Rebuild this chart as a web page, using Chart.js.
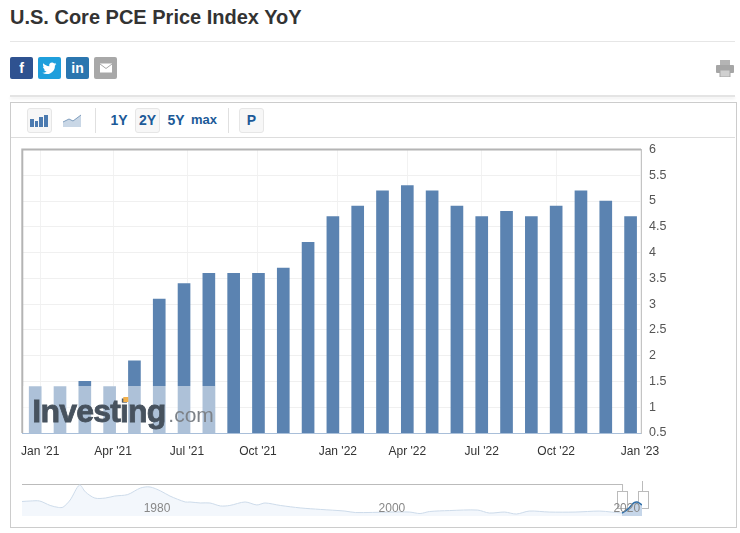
<!DOCTYPE html>
<html>
<head>
<meta charset="utf-8">
<title>U.S. Core PCE Price Index YoY</title>
<script src="https://cdn.jsdelivr.net/npm/chart.js@4"></script>
<style>
  html, body { margin: 0; padding: 0; background: #fff; }
  body { width: 740px; height: 533px; position: relative; overflow: hidden; font-family: "Liberation Sans", Arial, sans-serif; }
  .abs { position: absolute; }
  h1 { position: absolute; left: 10px; top: 6px; margin: 0; font-size: 20px; line-height: 22px; font-weight: bold; color: #333; }
  .rule { position: absolute; background: #e6e6e6; height: 1px; }
  .soc { position: absolute; top: 57px; width: 23px; height: 22px; border-radius: 2px; color: #fff; font-weight: bold; font-size: 14px; line-height: 22px; text-align: center; }
  .box { position: absolute; left: 10px; top: 102px; width: 725px; height: 424px; border: 1px solid #ccc; }
  .btn { position: absolute; top: 108px; height: 23px; border: 1px solid #e6e6e6; border-radius: 3px; background: #f7f7f7; }
  .tool { position: absolute; top: 111px; font-size: 14px; line-height: 18px; font-weight: bold; color: #1c5a98; text-align: center; }
  .sep { position: absolute; top: 108px; width: 1px; height: 25px; background: #e0e0e0; }
  .handle { position: absolute; top: 491px; width: 9px; height: 16px; border: 1px solid #bbb; background: #fff; }
  canvas { position: absolute; }
</style>
</head>
<body>
<h1>U.S. Core PCE Price Index YoY</h1>
<div class="rule" style="left:10px;top:41px;width:725px"></div>

<div class="soc" style="left:10px;background:#2f5290">f</div>
<div class="soc" style="left:38px;background:#1f9fdc">
  <svg width="15" height="22" viewBox="0 0 24 24" style="display:block;margin:0 auto"><path fill="#fff" d="M23 5.5c-.8.4-1.700.6-2.600.7.900-.6 1.600-1.400 2-2.500-.9.500-1.900.9-2.900 1.100a4.600 4.600 0 0 0-7.900 4.200C7.800 8.800 4.400 7 2.200 4.200c-1.200 2.100-.6 4.800 1.400 6.100-.7 0-1.400-.2-2.100-.6 0 2.200 1.600 4.100 3.700 4.600-.7.200-1.400.2-2.100.1.600 1.900 2.300 3.200 4.300 3.200A9.300 9.300 0 0 1 .6 19.500 13 13 0 0 0 20.700 8c.9-.6 1.700-1.500 2.300-2.500z"/></svg>
</div>
<div class="soc" style="left:66px;background:#2b76af">in</div>
<div class="soc" style="left:94px;background:#a8a8a8">
  <svg width="14" height="22" viewBox="0 0 14 22" style="display:block;margin:0 auto"><rect x="1" y="6.500" width="12" height="9" fill="#fff"/><path d="M1 7l6 4.500L13 7" fill="none" stroke="#a8a8a8"/></svg>
</div>
<svg class="abs" style="left:716px;top:60px" width="18" height="17" viewBox="0 0 18 17">
  <rect x="4" y="0" width="10" height="5" fill="#b4b4b4"/><rect x="0" y="5" width="18" height="8" rx="1" fill="#a6a6a6"/><rect x="4" y="10" width="10" height="7" fill="#d0d0d0" stroke="#a6a6a6"/>
</svg>

<div class="abs" style="left:10px;top:95px;width:725px;height:2px;background:#e4e4e4;box-shadow:0 2px 3px #eee"></div>
<div class="box"></div>
<div class="rule" style="left:11px;top:137px;width:724px;background:#ddd"></div>

<div class="btn" style="left:27px;width:23px"></div>
<svg class="abs" style="left:30px;top:113px" width="18" height="14"><g fill="#4c7bb0"><rect x="0" y="6" width="4" height="8"/><rect x="5" y="8" width="3" height="6"/><rect x="9" y="4" width="4" height="10"/><rect x="14" y="2" width="4" height="12"/></g></svg>
<svg class="abs" style="left:63px;top:114px" width="18" height="14"><path d="M0 8l6-3 4 2 8-6v12H0z" fill="#c9d7e6"/><path d="M0 8l6-3 4 2 8-6" fill="none" stroke="#7f9dbd"/></svg>
<div class="sep" style="left:95px"></div>
<div class="tool" style="left:108px;width:22px">1Y</div>
<div class="btn" style="left:135px;width:23px"></div>
<div class="tool" style="left:136px;width:23px">2Y</div>
<div class="tool" style="left:165px;width:22px">5Y</div>
<div class="tool" style="left:190px;width:28px;font-size:13px">max</div>
<div class="sep" style="left:228px"></div>
<div class="btn" style="left:239px;width:23px"></div>
<div class="tool" style="left:240px;width:23px">P</div>

<canvas id="main-chart" width="692" height="331" style="left:10px;top:134px"></canvas>

<div class="handle" style="left:617px"></div>
<div class="handle" style="left:638px"></div>
<canvas id="nav-chart" width="660" height="50" style="left:12px;top:475px"></canvas>

<script>
const months = ["Jan '21","Feb '21","Mar '21","Apr '21","May '21","Jun '21","Jul '21","Aug '21","Sep '21","Oct '21","Nov '21","Dec '21",
  "Jan '22","Feb '22","Mar '22","Apr '22","May '22","Jun '22","Jul '22","Aug '22","Sep '22","Oct '22","Nov '22","Dec '22","Jan '23"];
const coreValues = [1.4,1.4,1.5,1.4,1.9,3.1,3.4,3.6,3.6,3.6,3.7,4.2,4.7,4.9,5.2,5.3,5.2,4.9,4.7,4.8,4.7,4.9,5.2,5.0,4.7];
const yTicks = [0.5,1,1.5,2,2.5,3,3.5,4,4.5,5,5.5,6];
const xTickMonths = [0,3,6,9,12,15,18,21,24];

const navYears = [1968.5,1969.2,1970,1970.9,1971.6,1972,1972.6,1973.4,1973.9,1974.7,1975.6,1976.4,1977.5,1978.6,1979.4,1980.3,1981.1,1982.4,1982.8,1983.7,1984.5,1985.4,1986.2,1987.5,1988.5,1989.2,1990.5,1992.2,1993.9,1996,1996.9,1999.8,2001.5,2002.4,2003.2,2004.9,2007.3,2008.3,2009.6,2010.6,2011.7,2013.4,2015.6,2017.7,2018.7,2019.6];
const navValues = [5,5.15,5.15,3.8,3.2,3.3,5.45,10,7.9,6.05,6.05,6.65,7.1,9.1,9.4,8.2,6.65,4.85,4.85,4.55,4.55,3.65,3.8,4.85,3.95,4.55,3.8,3.05,2.6,2.1,1.65,1.8,1.8,1.35,1.95,2.25,2.4,1.5,1.8,1.2,2.1,1.8,1.8,2.1,1.8,1.5];
const navSelYears = [2019.6,2020.1,2020.6,2020.9,2021.3];
const navSelValues = [1.5,2.7,4.55,4.85,3.95];
const navTicks = [1980,2000,2020];

// the source axis is date based, so its ticks sit a little off the bars
const tickShift = [0.2,0.14,0.12,-0.02,0.2,0,0,0,0.38];

// forces the plot rectangle to the same pixels as the reference
const PLOT = { right: 631, bottom: 299 };

const frameAndMark = {
  id: 'frameAndMark',
  beforeDatasetsDraw(chart) {
    const { ctx, chartArea: a } = chart;
    ctx.save();
    ctx.strokeStyle = '#b4b4b4';
    ctx.lineWidth = 2;
    ctx.beginPath();
    ctx.moveTo(a.left, a.bottom);
    ctx.lineTo(a.left, a.top);
    ctx.lineTo(a.right, a.top);
    ctx.stroke();
    ctx.restore();
  },
  afterDatasetsDraw(chart) {
    const { ctx, chartArea: a } = chart;
    ctx.save();
    ctx.fillStyle = 'rgba(255,255,255,0.5)';
    ctx.fillRect(a.left + 1, a.bottom - 47, 192, 47);
    ctx.textBaseline = 'alphabetic';
    ctx.font = 'bold 32px "Liberation Sans"';
    ctx.letterSpacing = '-0.8px';
    ctx.fillStyle = '#47525e';
    ctx.strokeStyle = '#47525e';
    ctx.lineWidth = 0.8;
    ctx.fillText('Investing', a.left + 10, a.bottom - 11);
    ctx.strokeText('Investing', a.left + 10, a.bottom - 11);
    ctx.letterSpacing = '0px';
    ctx.font = '21px "Liberation Sans"';
    ctx.fillStyle = '#7d8288';
    ctx.fillText('.com', a.left + 146, a.bottom - 11);
    ctx.fillStyle = '#f2b04a';
    ctx.fillRect(a.left + 101, a.bottom - 36, 5, 5);
    ctx.restore();
  },
};

new Chart(document.getElementById('main-chart'), {
  type: 'bar',
  data: {
    datasets: [{
      data: months.map((m, i) => ({ x: i, y: coreValues[i] })),
      backgroundColor: '#5b83b1',
      barThickness: 12,
    }],
  },
  options: {
    responsive: false,
    animation: false,
    plugins: { legend: { display: false }, tooltip: { enabled: false } },
    scales: {
      x: {
        type: 'linear',
        offset: false,
        min: -0.52,
        max: 24.42,
        afterBuildTicks: s => { s.ticks = xTickMonths.map((m, i) => ({ value: m + tickShift[i] })); },
        afterFit: s => { s.height = 331 - PLOT.bottom; },
        grid: { color: '#f2f2f2', drawTicks: false, offset: false },
        border: { color: '#a9bfd9' },
        ticks: {
          autoSkip: false,
          maxRotation: 0,
          padding: 11,
          color: '#333',
          font: { family: 'Liberation Sans', size: 12 },
          callback: (v, i) => months[xTickMonths[i]],
        },
      },
      y: {
        position: 'right',
        min: 0.5,
        max: 6,
        afterBuildTicks: s => { s.ticks = yTicks.map(v => ({ value: v })); },
        afterFit: s => { s.width = 692 - PLOT.right; },
        grid: { color: '#f0f0f0', drawTicks: false },
        border: { color: '#c4c4c4' },
        ticks: { padding: 8, color: '#555', font: { family: 'Liberation Sans', size: 12.5 }, callback: v => String(v) },
      },
    },
  },
  plugins: [frameAndMark],
});

new Chart(document.getElementById('nav-chart'), {
  type: 'line',
  data: {
    datasets: [
      {
        data: navYears.map((y, i) => ({ x: y, y: navValues[i] })),
        borderColor: '#cddbea',
        borderWidth: 1,
        backgroundColor: '#f3f7fc',
        fill: 'start',
        pointRadius: 0,
        tension: 0.3,
      },
      {
        data: navSelYears.map((y, i) => ({ x: y, y: navSelValues[i] })),
        borderColor: '#2f6ea8',
        borderWidth: 1.5,
        backgroundColor: '#c6d6e9',
        fill: 'start',
        pointRadius: 0,
        tension: 0.3,
      },
    ],
  },
  options: {
    responsive: false,
    animation: false,
    layout: { padding: { left: 10, top: 9, right: 30, bottom: 0 } },
    plugins: { legend: { display: false }, tooltip: { enabled: false } },
    scales: {
      x: {
        type: 'linear',
        min: 1968.5,
        max: 2021.3,
        afterBuildTicks: s => { s.ticks = navTicks.map(v => ({ value: v })); },
        afterFit: s => { s.height = 9; },
        grid: { display: false },
        border: { display: false },
        ticks: {
          z: 1,
          autoSkip: false,
          mirror: true,
          maxRotation: 0,
          padding: 0,
          color: '#888',
          font: { family: 'Liberation Sans', size: 12 },
          callback: v => String(v),
        },
      },
      y: {
        min: 0.6,
        max: 10.3,
        display: false,
      },
    },
  },
  plugins: [{
    id: 'navTopLine',
    beforeDatasetsDraw(chart) {
      const { ctx, chartArea: a } = chart;
      const selStart = chart.scales.x.getPixelForValue(navSelYears[0]);
      ctx.save();
      ctx.strokeStyle = '#bbb';
      ctx.beginPath();
      ctx.moveTo(a.left, a.top + 0.5);
      ctx.lineTo(selStart, a.top + 0.5);
      ctx.moveTo(selStart + 0.5, a.top);
      ctx.lineTo(selStart + 0.5, a.top + 7);
      ctx.moveTo(a.right + 0.5, a.top - 3);
      ctx.lineTo(a.right + 0.5, a.top + 7);
      ctx.stroke();
      ctx.restore();
    },
  }],
});
</script>
</body>
</html>
